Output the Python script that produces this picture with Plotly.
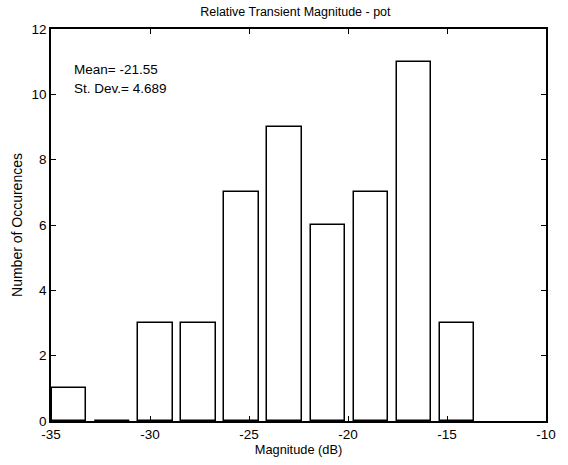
import plotly.graph_objects as go
import numpy as np

bin_centers = [-34.08, -31.90, -29.73, -27.55, -25.37, -23.20, -21.02, -18.84, -16.67, -14.49]
counts = [1, 0, 3, 3, 7, 9, 6, 7, 11, 3]
x_ticks = [-35, -30, -25, -20, -15, -10]
y_ticks = [0, 2, 4, 6, 8, 10, 12]
title = "Relative Transient Magnitude - pot"
stats_text = ["Mean= -21.55", "St. Dev.= 4.689"]

bin_w = float(np.mean(np.diff(bin_centers)))
font = dict(family="Liberation Sans, Arial, sans-serif", color="black")

fig = go.Figure()
fig.add_trace(go.Bar(
    x=bin_centers, y=counts, width=0.8 * bin_w,
    marker=dict(color="white", line=dict(color="black", width=1.5)),
    showlegend=False,
))

fig.update_layout(
    width=568, height=465,
    margin=dict(l=51, r=13, t=29, b=36),
    paper_bgcolor="white", plot_bgcolor="white",
    font=dict(size=12, **font),
    title=dict(text=title, x=0.52, xanchor="center", y=1 - 12 / 465, yanchor="middle",
               font=dict(size=12.5, **font)),
    bargap=0,
)
axis_common = dict(
    showgrid=False, zeroline=False, showline=True, linecolor="black", linewidth=1.5,
    mirror="ticks", ticks="inside", ticklen=5, tickcolor="black", tickwidth=1,
    tickfont=dict(size=13.5, **font),
)
fig.update_xaxes(range=[-35, -10], tickvals=x_ticks, ticktext=[str(v) for v in x_ticks],
                 title=dict(text="Magnitude (dB)", font=dict(size=12.8, **font), standoff=2),
                 **axis_common)
fig.update_yaxes(range=[0, 12], tickvals=y_ticks, ticktext=[str(v) for v in y_ticks],
                 title=dict(text="Number of Occurences", font=dict(size=14, **font), standoff=6),
                 **axis_common)

for i, t in enumerate(stats_text):
    fig.add_annotation(text=t, xref="paper", yref="paper", x=(72 - 51) / 504,
                       y=1 - (70 + 20 * i - 29) / 400, xanchor="left", yanchor="middle",
                       showarrow=False, font=dict(size=13.5, **font))

fig.write_html("out.html")
